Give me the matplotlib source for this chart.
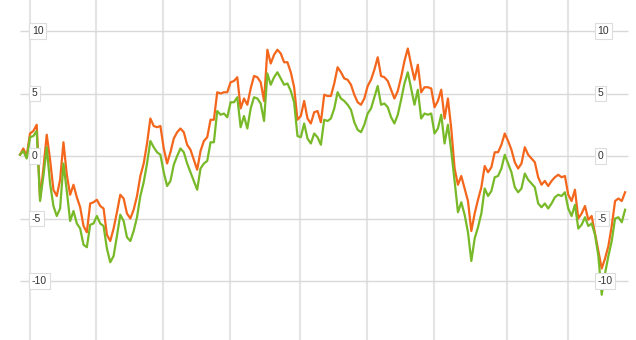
import matplotlib
matplotlib.use("Agg")
import matplotlib.pyplot as plt
import numpy as np

# two series, one value per period
orange = [0.1, 0.6, 0.0, 1.8, 2.0, 2.5, -3.4, -1.0, 1.7, -0.3,
          -2.7, -3.2, -1.9, 1.1, -1.5, -3.1, -2.3, -3.3, -4.1, -5.6,
          -6.1, -3.8, -3.7, -3.5, -4.0, -4.2, -6.3, -6.8, -5.8, -4.5,
          -3.1, -3.4, -4.6, -5.0, -4.3, -3.2, -1.6, -0.6, 1.0, 3.0,
          2.4, 2.3, 2.4, 0.6, -0.6, 0.3, 1.4, 1.9, 2.2, 1.9,
          0.9, 0.5, -0.3, -1.1, 0.4, 1.2, 1.5, 2.9, 2.9, 5.1,
          5.0, 5.1, 5.1, 5.9, 6.0, 6.3, 3.8, 4.6, 4.1, 5.4,
          6.4, 6.3, 5.9, 4.4, 8.5, 7.4, 8.1, 8.5, 8.2, 7.5,
          7.5, 6.7, 5.5, 2.9, 3.2, 4.4, 3.0, 2.6, 3.5, 3.6,
          2.7, 4.9, 4.8, 4.8, 5.8, 7.1, 6.7, 6.2, 6.1, 5.7,
          4.9, 4.3, 4.1, 4.6, 5.6, 6.1, 6.9, 7.9, 6.4, 6.3,
          6.0, 5.3, 4.6, 5.2, 6.3, 7.6, 8.6, 7.3, 6.1, 7.3,
          5.1, 5.5, 5.5, 5.4, 3.9, 4.4, 5.3, 3.0, 4.6, 2.2,
          -1.0, -2.3, -1.6, -2.6, -3.6, -6.0, -4.6, -3.5, -2.5, -0.8,
          -1.3, -0.9, 0.3, 0.3, 0.9, 1.8, 1.2, 0.5, -0.5, -1.0,
          -0.6, 0.7, 0.1, -0.2, -0.5, -1.7, -2.3, -2.0, -2.4, -2.0,
          -1.7, -1.5, -1.7, -1.6, -3.1, -3.6, -2.7, -5.0, -4.6, -4.0,
          -5.1, -4.8, -6.2, -7.6, -9.0, -8.2, -7.2, -5.6, -3.6, -3.4,
          -3.6, -2.9]

green = [0.1, 0.4, -0.2, 1.5, 1.6, 2.0, -3.6, -1.6, 0.7, -2.2,
         -4.0, -4.8, -4.2, -0.6, -2.8, -5.2, -4.4, -5.4, -5.8, -7.1,
         -7.3, -5.5, -5.4, -4.8, -5.4, -5.6, -7.4, -8.5, -8.0, -6.4,
         -4.7, -5.2, -6.5, -6.8, -6.0, -4.9, -3.2, -2.1, -0.6, 1.2,
         0.7, 0.3, 0.1, -1.3, -2.4, -2.0, -0.7, 0.0, 0.6, 0.3,
         -0.6, -1.3, -2.0, -2.7, -1.0, -0.6, -0.4, 1.1, 1.1, 3.6,
         3.3, 3.4, 3.1, 4.3, 4.3, 4.7, 2.3, 3.2, 2.2, 3.8,
         4.7, 4.6, 4.2, 2.8, 6.6, 5.7, 6.3, 6.7, 6.2, 5.7,
         5.8, 5.2, 4.3, 1.6, 1.5, 2.6, 1.4, 1.0, 1.8, 1.5,
         0.9, 2.9, 2.8, 3.0, 3.8, 5.1, 4.6, 4.4, 4.1, 3.7,
         2.7, 2.1, 1.9, 2.5, 3.4, 3.8, 4.7, 5.6, 4.1, 4.2,
         3.9, 3.1, 2.6, 3.3, 4.5, 5.8, 6.7, 5.4, 4.1, 5.3,
         3.0, 3.4, 3.3, 3.4, 1.8, 2.2, 3.3, 1.0, 2.5, 0.4,
         -2.0, -4.5, -3.7, -4.7, -6.1, -8.4, -6.6, -5.7, -4.6, -2.6,
         -3.2, -2.8, -1.7, -1.6, -1.0, 0.1, -0.6, -1.3, -2.5, -2.9,
         -2.6, -1.4, -1.9, -2.2, -2.5, -3.8, -4.1, -3.8, -4.2, -3.8,
         -3.3, -3.1, -3.2, -2.9, -4.2, -4.8, -3.9, -5.8, -5.5, -4.9,
         -5.6, -5.4, -6.3, -8.0, -11.1, -9.4, -8.0, -6.8, -5.0, -4.9,
         -5.3, -4.3]

y_ticks = [10, 5, 0, -5, -10]
period_starts = [3.0, 22.7, 42.8, 62.8, 83.8, 103.8, 123.9, 145.7, 163.9]

fig = plt.figure(figsize=(6.36, 3.40), dpi=100)
ax = fig.add_axes([0, 0, 1, 1])
ax.set_xlim(-5.98, 184.26)
ax.set_ylim(-14.72, 12.48)
ax.axis("off")

# grid
for k in period_starts:
    ax.axvline(k, color="#e4e4e4", lw=1.5, zorder=1)
ax.hlines(y_ticks, 0, 181.9, color="#d9d9d9", lw=1.0, zorder=1)

x = np.arange(len(orange))
ax.plot(x, orange, color="#f4661b", lw=1.6, zorder=3, solid_joinstyle="round")
ax.plot(x, green, color="#78b928", lw=1.6, zorder=3, solid_joinstyle="round")

box = dict(boxstyle="square,pad=0.25", fc="white", ec="#dddddd", lw=0.8)
for v in y_ticks:
    ax.text(0.0502, v, str(v), transform=ax.get_yaxis_transform(),
            ha="left", va="center", fontsize=7.5, family="Liberation Sans",
            color="#333333", bbox=box, zorder=5)
    ax.text(0.9395, v, str(v), transform=ax.get_yaxis_transform(),
            ha="left", va="center", fontsize=7.5, family="Liberation Sans",
            color="#333333", bbox=box, zorder=5)

fig.savefig("out.png", dpi=100)
